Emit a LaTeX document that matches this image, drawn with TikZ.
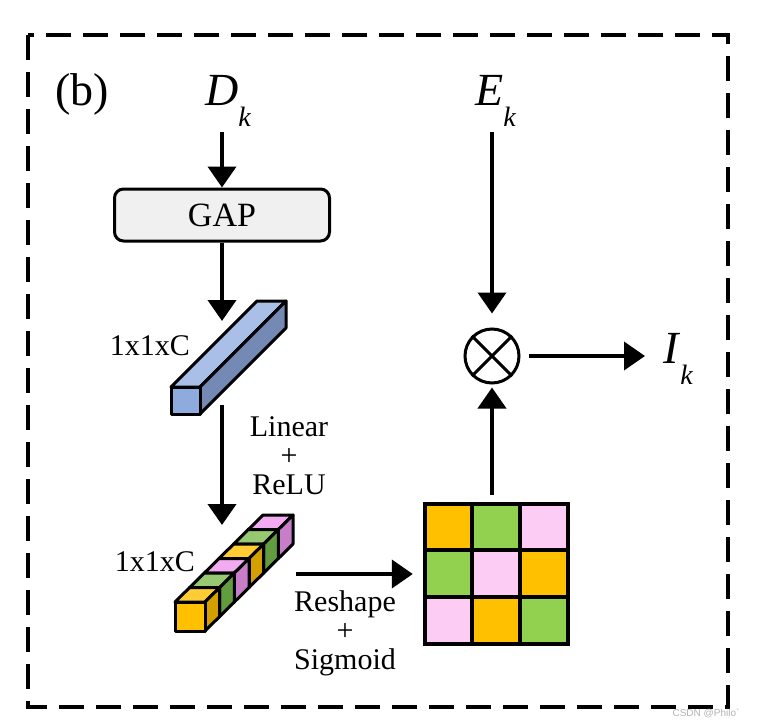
\documentclass[tikz,border=0pt]{standalone}
\usepackage{fontspec}
\setmainfont{Liberation Serif}
\newfontfamily\markfont{Liberation Sans}
\usetikzlibrary{arrows.meta}
\usetikzlibrary{calc}

\definecolor{barF}{HTML}{8FAADC}
\definecolor{barT}{HTML}{A9BFE7}
\definecolor{barS}{HTML}{7489B4}
\definecolor{orF}{HTML}{FFC000}
\definecolor{orT}{HTML}{FFCC33}
\definecolor{orS}{HTML}{D4A000}
\definecolor{grF}{HTML}{92D050}
\definecolor{grT}{HTML}{97C872}
\definecolor{grS}{HTML}{619C3E}
\definecolor{pkF}{HTML}{FCCCF4}
\definecolor{pkT}{HTML}{F2AAF0}
\definecolor{pkS}{HTML}{C77DC7}
\definecolor{gapfill}{HTML}{F0F0F0}

\newcommand{\subk}{\raisebox{-21pt}{\fontsize{28}{28}\selectfont\textit{k}}}

\begin{document}
\begin{tikzpicture}[x=1pt,y=-1pt,
  arr/.style={line width=4pt,-{Triangle[length=21pt,width=28pt]}},
  lbl/.style={font=\fontsize{30}{29}\selectfont,align=center,inner sep=0pt},
  sym/.style={font=\fontsize{46}{46}\selectfont,inner sep=0pt},
  face/.style={draw=black,line width=3pt,line join=round}]

\useasboundingbox (0,0) rectangle (758,728);

\draw[line width=3.5pt,dash pattern=on 25pt off 12pt] (28,35) rectangle (728,707);

\node[sym,anchor=base west] (b) at (55,105) {(b)};
\node[sym,anchor=base west] (dk) at (205,105) {\textit{D}\subk};
\node[sym,anchor=base west] (ek) at (475,105) {\textit{E}\subk};
\node[sym,anchor=base west] (ik) at (663,363) {\textit{I}\subk};

\node[draw,line width=3pt,rounded corners=9pt,fill=gapfill,minimum width=215pt,minimum height=52pt,
  font=\fontsize{34}{34}\selectfont] (gap) at (222,215) {GAP};

% first bar
\def\bx{171}
\def\by{387}
\def\bs{29}
\def\bd{86}
\draw[face,fill=barT] (\bx,\by) -- ++(\bd,-\bd) -- ++(\bs,0) -- ++(-\bd,\bd) -- cycle;
\draw[face,fill=barS] (\bx+\bs,\by) -- ++(\bd,-\bd) -- ++(0,27) -- ++(-\bd,\bd) -- cycle;
\draw[face,fill=barF] (\bx,\by) rectangle ++(\bs,27);
\coordinate (bar1in) at (222,321);
\coordinate (bar1out) at (222,405);
\node[lbl,anchor=base] (c1) at (150,355) {1x1xC};

% second bar
\def\cx{175}
\def\cy{602}
\def\cs{30}
\def\dx{14.67}
\def\dy{14.5}
\foreach \i/\cf/\ct/\cside in {5/pkF/pkT/pkS,4/grF/grT/grS,3/orF/orT/orS,2/pkF/pkT/pkS,1/grF/grT/grS,0/orF/orT/orS}{
  \draw[face,fill=\ct] ({\cx+\i*\dx},{\cy-\i*\dy}) -- ++(\dx,-\dy) -- ++(\cs,0) -- ++(-\dx,\dy) -- cycle;
  \draw[face,fill=\cside] ({\cx+\cs+\i*\dx},{\cy-\i*\dy}) -- ++(\dx,-\dy) -- ++(0,29) -- ++(-\dx,\dy) -- cycle;
  \draw[face,fill=\cf] ({\cx+\i*\dx},{\cy-\i*\dy}) rectangle ++(\cs,29);
}
\coordinate (bar2in) at (222,525);
\coordinate (rs) at (296,574);
\node[lbl,anchor=base] (c2) at (155,571) {1x1xC};

% 3x3 map
\node[minimum width=143pt,minimum height=140pt,inner sep=0pt] (grid) at (496.5,574) {};
\foreach \r/\k/\col in {0/0/orF,0/1/grF,0/2/pkF,1/0/grF,1/1/pkF,1/2/orF,2/0/pkF,2/1/orF,2/2/grF}{
  \draw[line width=4pt,fill=\col] ($(grid.north west)+(\k*47.67,\r*46.67)$) rectangle ++(47.67,46.67);
}

\node[circle,draw,line width=3pt,minimum size=54pt,inner sep=0pt] (mul) at (492,356) {};
\draw[line width=3pt] (mul.north west) -- (mul.south east) (mul.north east) -- (mul.south west);

\node[lbl] (lin) at (289,456) {Linear\\+\\ReLU};
\node[lbl] (rsg) at (345,633) {Reshape\\+\\Sigmoid};

\draw[arr] (gap.north |- dk.south) ++(0,6) -- (gap.north);
\draw[arr] (gap.south) -- (bar1in);
\draw[arr] (bar1out) -- (bar2in);
\draw[arr,shorten >=12pt] (rs) -- (grid.west);
\draw[arr,shorten >=3pt] ($(grid.north)+(-4.5,-9)$) -- (mul.south);
\draw[arr,shorten <=6pt,shorten >=14pt] (mul.north |- ek.south) -- (mul.north);
\draw[arr,shorten <=8pt,shorten >=18pt] (mul.east) -- (mul.east -| ik.west);

\node[font=\markfont\fontsize{10}{10}\selectfont,text=gray!60] (wm) at (706,714) {CSDN @Philo\symbol{96}};

\end{tikzpicture}
\end{document}
